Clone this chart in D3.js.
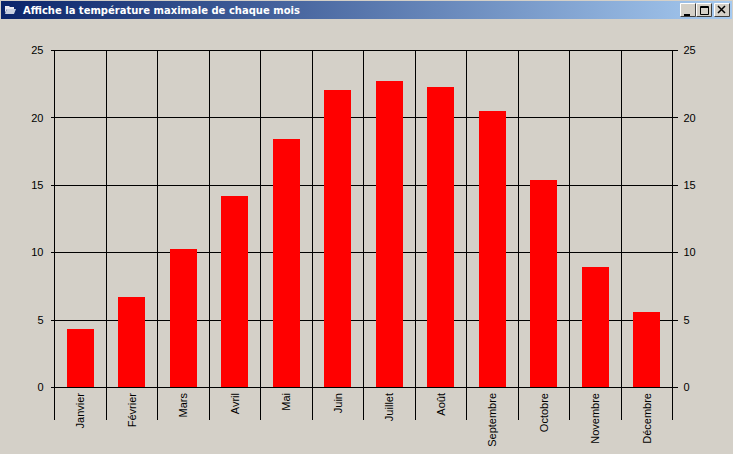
<!DOCTYPE html>
<html>
<head>
<meta charset="utf-8">
<script src="https://cdn.jsdelivr.net/npm/d3@7"></script>
<style>
    html, body { margin: 0; padding: 0; background: #d4d0c8; overflow: hidden; }
    svg { display: block; }
    .axis text { font-family: "Liberation Sans", Arial, sans-serif; font-size: 11px; fill: #000; }
    .axis path { display: none; }
    .axis line { stroke: #000; stroke-width: 1; shape-rendering: crispEdges; }
</style>
</head>
<body>
<svg id="canvas" width="733" height="454"></svg>
<script>

const months = ["Janvier", "Février", "Mars", "Avril", "Mai", "Juin", "Juillet", "Août", "Septembre", "Octobre", "Novembre", "Décembre"];
const maxTemps = [4.3, 6.7, 10.25, 14.2, 18.4, 22, 22.7, 22.25, 20.5, 15.35, 8.9, 5.55];
const yTicks = [0, 5, 10, 15, 20, 25];
const windowTitle = "Affiche la température maximale de chaque mois";

const svg = d3.select("#canvas");

// Plot area inside the window
const plotLeft = 54.5, plotRight = 672.5, plotTop = 50, plotBottom = 387, stickDown = 33;

const x = d3.scaleBand().domain(months).range([plotLeft, plotRight]).paddingInner(0.475).paddingOuter(0.2375);
const edges = d3.scalePoint().domain(d3.range(months.length + 1)).range([plotLeft, plotRight]);
const y = d3.scaleLinear().domain([0, 25]).range([plotBottom, plotTop]);

// Title bar
const gradient = svg.append("defs").append("linearGradient").attr("id", "titlebar");
gradient.append("stop").attr("offset", "0%").attr("stop-color", "#0a246a");
gradient.append("stop").attr("offset", "100%").attr("stop-color", "#a6caf0");

svg.append("rect").attr("x", 1).attr("y", 1).attr("width", 731).attr("height", 18).attr("fill", "url(#titlebar)");
svg.append("text")
    .attr("x", 23).attr("y", 14)
    .attr("font-family", "'DejaVu Sans', sans-serif")
    .attr("font-size", "10px")
    .attr("font-weight", "bold")
    .attr("fill", "#fff")
    .text(windowTitle);

// Little window icon
svg.append("path").attr("d", "M5 6h4l1 1h4v2h-7l-2 4z").attr("fill", "#e8e8f0");
svg.append("path").attr("d", "M7 9h9l-2 5h-9z").attr("fill", "#c8d0e0");

// Minimise, maximise, close buttons
const buttons = [680, 696, 714];
const button = svg.selectAll("g.button").data(buttons).enter().append("g")
    .attr("class", "button")
    .attr("transform", (d) => `translate(${d},3)`);
button.append("rect").attr("width", 16).attr("height", 14).attr("fill", "#d4d0c8");
button.append("path").attr("d", "M0.5 13.5V0.5H15.5").attr("fill", "none").attr("stroke", "#fff");
button.append("path").attr("d", "M0.5 13.5H15.5V0.5").attr("fill", "none").attr("stroke", "#404040");
svg.append("path").attr("d", "M684 14h6v2h-6z").attr("fill", "#000");
svg.append("path").attr("d", "M700.5 6.5h8v8h-8zM700.5 7.5h8").attr("fill", "none").attr("stroke", "#000");
svg.append("path").attr("d", "M718 6l7 7M725 6l-7 7").attr("fill", "none").attr("stroke", "#000").attr("stroke-width", 1.5);

// Value labels on both sides
svg.append("g")
    .attr("class", "axis")
    .attr("transform", `translate(${plotLeft},0)`)
    .call(d3.axisLeft(y).tickValues(yTicks).tickSize(4).tickPadding(7))
    .selectAll("text").attr("dy", "0.34em");

svg.append("g")
    .attr("class", "axis")
    .attr("transform", `translate(${plotRight},0)`)
    .call(d3.axisRight(y).tickValues(yTicks).tickSize(5).tickPadding(6))
    .selectAll("text").attr("dy", "0.34em");

// Grid
svg.append("g")
    .attr("class", "axis")
    .attr("transform", `translate(${plotLeft},0)`)
    .call(d3.axisRight(y).tickValues(yTicks).tickSize(plotRight - plotLeft).tickFormat(""));

svg.append("g")
    .attr("class", "axis")
    .selectAll("line")
    .data(d3.range(months.length + 1))
    .enter()
    .append("line")
    .attr("x1", (d) => edges(d)).attr("x2", (d) => edges(d))
    .attr("y1", plotTop).attr("y2", plotBottom + stickDown);

// Bars
svg.append("g")
    .selectAll("rect")
    .data(months)
    .enter()
    .append("rect")
    .attr("x", (d) => x(d))
    .attr("y", (d, i) => y(maxTemps[i]))
    .attr("width", x.bandwidth())
    .attr("height", (d, i) => y(0) - y(maxTemps[i]))
    .attr("fill", "#ff0000")
    .attr("shape-rendering", "crispEdges");

// Baseline drawn again over the bar feet
svg.append("line")
    .attr("x1", plotLeft).attr("x2", plotRight)
    .attr("y1", y(0)).attr("y2", y(0))
    .attr("stroke", "#000").attr("shape-rendering", "crispEdges");

// Rotated month labels
svg.append("g")
    .attr("class", "axis")
    .selectAll("text")
    .data(months)
    .enter()
    .append("text")
    .attr("text-anchor", "end")
    .attr("transform", (d) => `translate(${x(d) + x.bandwidth() / 2 + 4},393) rotate(-90)`)
    .text((d) => d);

</script>
</body>
</html>
